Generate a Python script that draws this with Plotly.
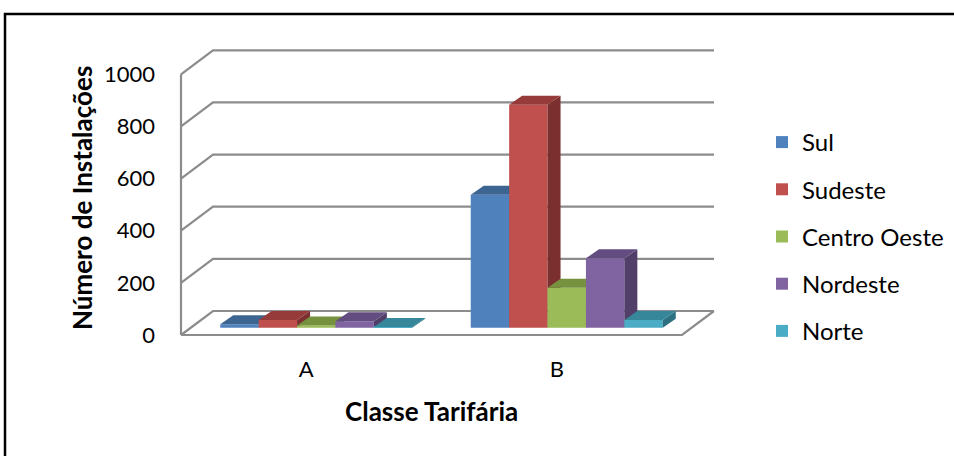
import plotly.graph_objects as go

# Installations per tariff class and region
categories = ["A", "B"]
series_names = ["Sul", "Sudeste", "Centro Oeste", "Nordeste", "Norte"]
sul = [13, 510]
sudeste = [30, 855]
centro_oeste = [8, 153]
nordeste = [25, 266]
norte = [3, 30]
series_values = [sul, sudeste, centro_oeste, nordeste, norte]
y_ticks = [0, 200, 400, 600, 800, 1000]

front_colors = ["#4F81BD", "#C0504D", "#9BBB59", "#8064A2", "#4BACC6"]
top_colors = ["#3D6592", "#963B39", "#77923F", "#634C80", "#37879A"]
side_colors = ["#345680", "#7B2F2E", "#627A34", "#513E69", "#2D7081"]

# Page geometry (pixels) used to build the oblique 3-D look
W, H = 954, 456
ORIGIN_X, ORIGIN_Y = 181, 335          # front-left corner of the floor
PX_PER_CAT = 250.5                     # one category slot, px
PX_PER_UNIT = 0.2607                   # value axis, px per installation
WALL_DX, WALL_DY = 32, 24              # full depth of the box, px
PLANE_DX, PLANE_DY = 10, 7.3           # depth where bar fronts stand, px
BAR_W = 38.4                           # bar width, px
BAR_DX, BAR_DY = 13, 9                 # bar depth, px

def cx(px):
    return px / PX_PER_CAT

def cv(py):
    return py / PX_PER_UNIT

x_range = [cx(-ORIGIN_X), cx(W - ORIGIN_X)]
y_range = [cv(ORIGIN_Y - H), cv(ORIGIN_Y)]

n_cat = len(categories)
n_ser = len(series_names)
grid_color = "#8C8C8C"

fig = go.Figure()

# Walls: left wall diagonals, back wall gridlines, floor edges
wx, wy = [], []
for t in y_ticks:
    wx += [0, cx(WALL_DX), n_cat + cx(WALL_DX), None]
    wy += [t, t + cv(WALL_DY), t + cv(WALL_DY), None]
wx += [0, 0, None, 0, n_cat, n_cat + cx(WALL_DX)]
wy += [y_ticks[0], y_ticks[-1], None, 0, 0, cv(WALL_DY)]
fig.add_trace(go.Scatter(x=wx, y=wy, mode="lines",
                         line=dict(color=grid_color, width=2.2),
                         hoverinfo="skip", showlegend=False, zorder=-1))

bw = cx(BAR_W)
for i, (name, vals) in enumerate(zip(series_names, series_values)):
    lefts = [g + 0.5 - n_ser / 2 * bw + i * bw + cx(PLANE_DX) for g in range(n_cat)]
    base = cv(PLANE_DY)
    # top and right-hand faces
    tx, ty, sx, sy = [], [], [], []
    for l, v in zip(lefts, vals):
        top = base + v
        tx += [l, l + bw, l + bw + cx(BAR_DX), l + cx(BAR_DX), l, None]
        ty += [top, top, top + cv(BAR_DY), top + cv(BAR_DY), top, None]
        r = l + bw
        sx += [r, r, r + cx(BAR_DX), r + cx(BAR_DX), r, None]
        sy += [base, top, top + cv(BAR_DY), base + cv(BAR_DY), base, None]
    fig.add_trace(go.Scatter(x=sx, y=sy, mode="lines", fill="toself",
                             fillcolor=side_colors[i], line=dict(width=0),
                             hoverinfo="skip", showlegend=False,
                             legendgroup=name, zorder=i))
    fig.add_trace(go.Scatter(x=tx, y=ty, mode="lines", fill="toself",
                             fillcolor=top_colors[i], line=dict(width=0),
                             hoverinfo="skip", showlegend=False,
                             legendgroup=name, zorder=i))
    # front faces
    fig.add_trace(go.Bar(x=[l + bw / 2 for l in lefts], y=vals, base=base,
                         width=bw, name=name, legendgroup=name,
                         marker=dict(color=front_colors[i], line=dict(width=0)),
                         customdata=categories,
                         hovertemplate="%{customdata}: %{y}<extra>" + name + "</extra>",
                         zorder=i))

font_family = "Lato, 'Open Sans', sans-serif"

fig.update_layout(
    width=W, height=H,
    margin=dict(l=0, r=0, t=0, b=0),
    paper_bgcolor="white", plot_bgcolor="white",
    barmode="overlay",
    showlegend=True,
    legend=dict(x=762 / W, y=1 - 120 / H, xanchor="left", yanchor="top",
                font=dict(family=font_family, size=24, color="black"),
                traceorder="grouped", tracegroupgap=13,
                bgcolor="rgba(0,0,0,0)"),
    xaxis=dict(range=x_range, domain=[0, 1], anchor="free",
               position=(H - ORIGIN_Y) / H,
               tickvals=[k + 0.5 for k in range(n_cat)], ticktext=categories,
               showgrid=False, zeroline=False, showline=False,
               ticks="", ticklabelstandoff=19,
               tickfont=dict(family=font_family, size=22, color="black")),
    yaxis=dict(range=y_range, domain=[0, 1], anchor="free",
               position=ORIGIN_X / W,
               tickvals=y_ticks,
               showgrid=False, zeroline=False, showline=False,
               ticks="", ticklabelstandoff=26,
               tickfont=dict(family=font_family, size=22, color="black")),
    annotations=[
        dict(text="<b>Número de Instalações</b>", xref="paper", yref="paper",
             x=82 / W, y=1 - 198 / H, textangle=-90, showarrow=False,
             xanchor="center", yanchor="middle",
             font=dict(family=font_family, size=26, color="black")),
        dict(text="<b>Classe Tarifária</b>", xref="paper", yref="paper",
             x=431 / W, y=1 - 411 / H, showarrow=False,
             xanchor="center", yanchor="middle",
             font=dict(family=font_family, size=26, color="black")),
    ],
    shapes=[dict(type="rect", xref="paper", yref="paper",
                 x0=5 / W, x1=1.02, y0=-0.05, y1=1 - 14 / H,
                 line=dict(color="black", width=2.5))],
)

fig.write_html("out.html")
